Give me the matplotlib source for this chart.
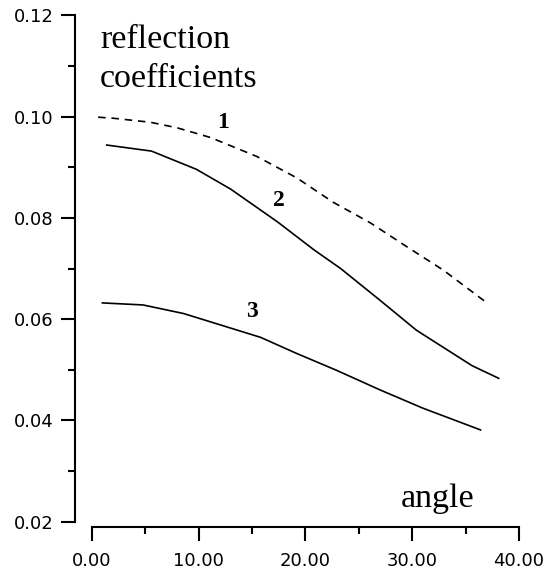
import numpy as np
import matplotlib.pyplot as plt
from matplotlib.ticker import MultipleLocator, FormatStrFormatter

# curve 1 (dashed), curve 2, curve 3
x1 = [0.6, 2.0, 5.5, 8.0, 11.1, 15.5, 19.2, 22.6, 26.1, 29.5, 32.9, 37.0]
y1 = [0.0999, 0.0997, 0.0989, 0.0978, 0.0959, 0.0921, 0.0879, 0.0831,
      0.0790, 0.0743, 0.0697, 0.0632]

x2 = [1.4, 5.6, 9.8, 13.0, 17.4, 20.8, 23.3, 27.0, 30.4, 35.6, 38.1]
y2 = [0.0944, 0.0932, 0.0896, 0.0857, 0.0792, 0.0737, 0.0700, 0.0637,
      0.0578, 0.0508, 0.0483]

x3 = [1.0, 4.8, 8.6, 15.8, 19.2, 22.9, 27.0, 31.0, 36.4]
y3 = [0.0632, 0.0628, 0.0611, 0.0564, 0.0532, 0.0499, 0.0460, 0.0424, 0.0381]

curve_labels = ['1', '2', '3']
label_x = [12.3, 17.5, 15.0]
label_y = [0.0988, 0.0834, 0.0615]

fig = plt.figure(figsize=(5.45, 5.76), dpi=100)
ax = fig.add_axes([0.1683, 0.0946, 0.784, 0.8785])

ax.plot(x1, y1, color='black', lw=1.2, dashes=(4.5, 3.5))
ax.plot(x2, y2, color='black', lw=1.2)
ax.plot(x3, y3, color='black', lw=1.2)

for t, lx, ly in zip(curve_labels, label_x, label_y):
    ax.text(lx, ly, t, family='Liberation Serif', weight='bold', fontsize=17,
            ha='center', va='center')

serif = dict(family='Liberation Serif', fontsize=24.5, ha='left', va='baseline')
ax.text(0.78, 0.1136, 'reflection', **serif)
ax.text(0.78, 0.1059, 'coefficients', **serif)
ax.text(28.9, 0.0229, 'angle', **serif)

ax.set_xlim(0, 40)
ax.set_ylim(0.02, 0.12)
ax.xaxis.set_major_locator(MultipleLocator(10))
ax.xaxis.set_minor_locator(MultipleLocator(5))
ax.yaxis.set_major_locator(MultipleLocator(0.02))
ax.yaxis.set_minor_locator(MultipleLocator(0.01))
ax.xaxis.set_major_formatter(FormatStrFormatter('%.2f'))
ax.yaxis.set_major_formatter(FormatStrFormatter('%.2f'))

for s in ['top', 'right']:
    ax.spines[s].set_visible(False)
ax.spines['left'].set_position(('outward', 12.4))
ax.spines['bottom'].set_position(('outward', 4))
for s in ['left', 'bottom']:
    ax.spines[s].set_linewidth(1.5)

ax.tick_params(which='both', direction='out', width=1.5, labelsize=13)
ax.tick_params(which='major', length=10)
ax.tick_params(which='minor', length=5)
ax.tick_params(axis='x', which='major', pad=8)
ax.tick_params(axis='y', which='major', pad=5)

fig.savefig('out.png', dpi=100)
